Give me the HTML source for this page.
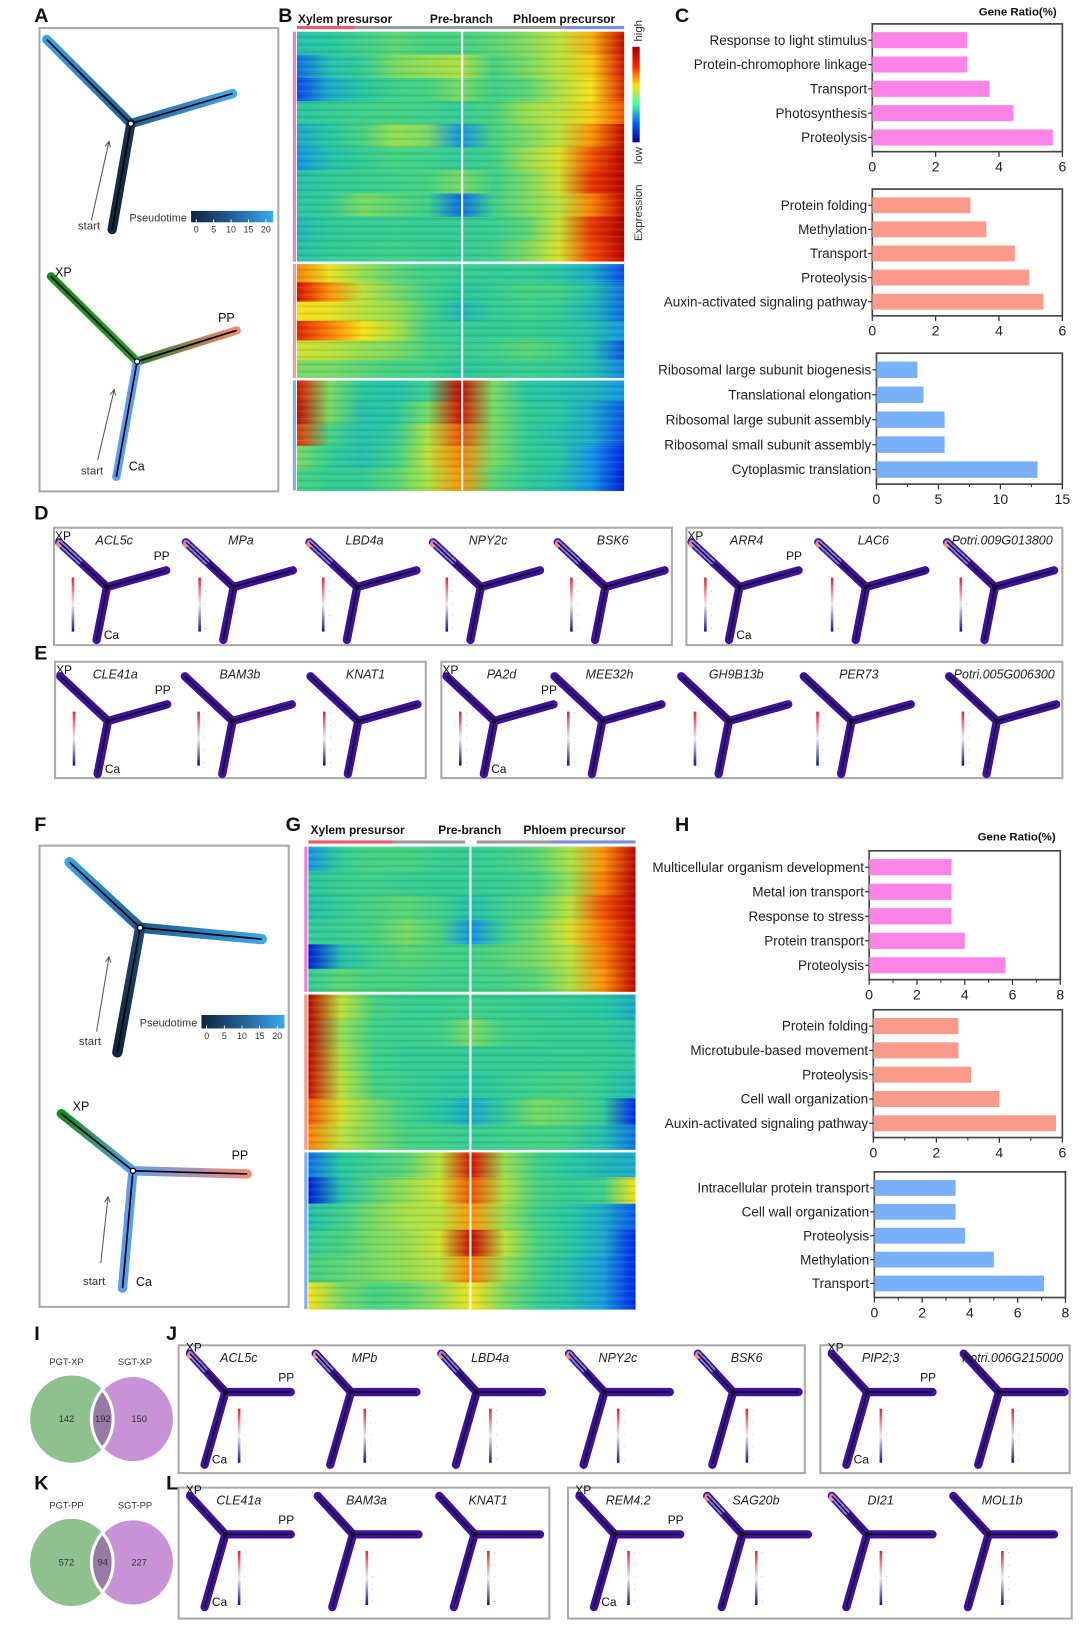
<!DOCTYPE html>
<html><head><meta charset="utf-8">
<style>
html,body{margin:0;padding:0;background:#fff;}
svg{display:block;font-family:"Liberation Sans",Arial,sans-serif;}
</style></head>
<body>
<svg id="fig" width="1080" height="1631" viewBox="0 0 1040 1570" preserveAspectRatio="none" xmlns="http://www.w3.org/2000/svg">
<defs id="defs">
<pattern id="stripes" width="6" height="7" patternUnits="userSpaceOnUse">
<rect x="0" y="0" width="6" height="1.5" fill="#000" opacity="0.10"/>
<rect x="0" y="3.5" width="6" height="1" fill="#fff" opacity="0.10"/>
</pattern>
</defs>
</svg>
<script>
// ---------- bar chart data ----------
const cLabels1 = ["Response to light stimulus","Protein-chromophore linkage","Transport","Photosynthesis","Proteolysis"];
const cValues1 = [3.0,3.0,3.7,4.45,5.7];
const cLabels2 = ["Protein folding","Methylation","Transport","Proteolysis","Auxin-activated signaling pathway"];
const cValues2 = [3.1,3.6,4.5,4.95,5.4];
const cLabels3 = ["Ribosomal large subunit biogenesis","Translational elongation","Ribosomal large subunit assembly","Ribosomal small subunit assembly","Cytoplasmic translation"];
const cValues3 = [3.3,3.8,5.5,5.5,13.0];
const hLabels1 = ["Multicellular organism development","Metal ion transport","Response to stress","Protein transport","Proteolysis"];
const hValues1 = [3.45,3.45,3.45,4.0,5.7];
const hLabels2 = ["Protein folding","Microtubule-based movement","Proteolysis","Cell wall organization","Auxin-activated signaling pathway"];
const hValues2 = [2.7,2.7,3.1,4.0,5.8];
const hLabels3 = ["Intracellular protein transport","Cell wall organization","Proteolysis","Methylation","Transport"];
const hValues3 = [3.4,3.4,3.8,5.0,7.1];
const ticks6 = [0,2,4,6];
const ticks15 = [0,5,10,15];
const ticks8 = [0,2,4,6,8];
// ---------- heatmap row profiles (expression 0..1 along pseudotime, 11 points) ----------
const bCluster1 = [
 [0.40,0.42,0.48,0.52,0.50,0.50,0.52,0.56,0.62,0.75,0.95],
 [0.25,0.40,0.45,0.55,0.58,0.60,0.50,0.55,0.62,0.72,0.92],
 [0.20,0.35,0.42,0.48,0.50,0.55,0.48,0.52,0.60,0.70,0.90],
 [0.42,0.45,0.48,0.50,0.48,0.45,0.50,0.58,0.62,0.72,0.85],
 [0.35,0.42,0.50,0.58,0.55,0.30,0.50,0.55,0.62,0.78,0.96],
 [0.30,0.40,0.45,0.50,0.48,0.45,0.48,0.58,0.66,0.85,0.98],
 [0.40,0.44,0.46,0.48,0.50,0.55,0.48,0.55,0.65,0.88,0.98],
 [0.42,0.45,0.55,0.52,0.48,0.25,0.48,0.55,0.62,0.80,0.96],
 [0.38,0.44,0.45,0.46,0.45,0.45,0.46,0.52,0.64,0.88,0.99],
 [0.40,0.45,0.46,0.48,0.46,0.45,0.48,0.55,0.66,0.86,0.97]];
const bCluster2 = [
 [0.80,0.68,0.58,0.52,0.48,0.45,0.44,0.45,0.42,0.35,0.20],
 [0.92,0.78,0.62,0.55,0.48,0.42,0.45,0.50,0.48,0.40,0.25],
 [0.70,0.68,0.62,0.58,0.50,0.38,0.45,0.48,0.45,0.38,0.25],
 [0.90,0.80,0.70,0.60,0.48,0.45,0.45,0.46,0.44,0.40,0.30],
 [0.65,0.62,0.58,0.55,0.50,0.45,0.48,0.52,0.48,0.40,0.22],
 [0.55,0.55,0.52,0.50,0.48,0.42,0.45,0.46,0.45,0.40,0.28]];
const bCluster3 = [
 [0.92,0.55,0.42,0.40,0.48,0.95,0.55,0.42,0.40,0.38,0.30],
 [0.95,0.55,0.40,0.42,0.55,0.92,0.55,0.45,0.42,0.35,0.22],
 [0.88,0.50,0.40,0.45,0.60,0.85,0.55,0.45,0.40,0.35,0.20],
 [0.55,0.45,0.40,0.48,0.62,0.80,0.55,0.45,0.42,0.30,0.15],
 [0.50,0.45,0.45,0.52,0.60,0.78,0.52,0.45,0.40,0.30,0.12]];
const gCluster1 = [
 [0.30,0.45,0.50,0.50,0.46,0.45,0.48,0.52,0.60,0.78,0.97],
 [0.42,0.46,0.48,0.46,0.45,0.45,0.46,0.50,0.58,0.80,0.98],
 [0.40,0.45,0.50,0.52,0.48,0.40,0.48,0.52,0.62,0.85,0.98],
 [0.44,0.46,0.50,0.55,0.50,0.30,0.48,0.55,0.66,0.82,0.96],
 [0.12,0.40,0.48,0.52,0.50,0.48,0.52,0.55,0.62,0.80,0.97],
 [0.45,0.52,0.50,0.50,0.48,0.48,0.50,0.52,0.60,0.78,0.97]];
const gCluster2 = [
 [0.97,0.62,0.50,0.46,0.46,0.48,0.46,0.45,0.44,0.42,0.35],
 [0.97,0.58,0.48,0.46,0.48,0.55,0.48,0.46,0.45,0.45,0.40],
 [0.96,0.60,0.48,0.45,0.45,0.45,0.45,0.45,0.46,0.45,0.42],
 [0.95,0.62,0.50,0.46,0.44,0.42,0.45,0.48,0.50,0.45,0.38],
 [0.85,0.65,0.55,0.48,0.42,0.35,0.45,0.55,0.52,0.45,0.15],
 [0.80,0.62,0.55,0.50,0.48,0.45,0.48,0.50,0.48,0.40,0.25]];
const gCluster3 = [
 [0.25,0.42,0.48,0.52,0.62,0.92,0.58,0.48,0.42,0.38,0.35],
 [0.12,0.40,0.52,0.58,0.65,0.85,0.60,0.50,0.45,0.48,0.70],
 [0.40,0.48,0.55,0.60,0.62,0.78,0.58,0.48,0.42,0.35,0.22],
 [0.45,0.50,0.55,0.58,0.65,0.95,0.62,0.50,0.42,0.35,0.15],
 [0.50,0.52,0.55,0.58,0.62,0.80,0.58,0.48,0.40,0.32,0.15],
 [0.70,0.55,0.50,0.52,0.58,0.70,0.55,0.46,0.40,0.32,0.15]];
// ---------- venn data ----------
const vennXP = [142,192,150];
const vennPP = [572,94,227];

const svg = document.getElementById('fig');
const defs = document.getElementById('defs');
const NS = "http://www.w3.org/2000/svg";
function el(tag, attrs, parent){
  const e = document.createElementNS(NS, tag);
  for (const k in attrs) e.setAttribute(k, attrs[k]);
  (parent||svg).appendChild(e);
  return e;
}
function txt(x,y,s,size,opts,parent){
  const o = Object.assign({x:x,y:y,'font-size':size,fill:'#111'}, opts||{});
  const t = el('text', o, parent);
  t.textContent = s;
  return t;
}
function panelLabel(x,y,s){
  const t = txt(x,y,s,19,{'font-weight':'bold'});
  
  
}
const cmap=[[0,[0,0,130]],[0.15,[0,40,240]],[0.3,[20,150,230]],[0.42,[40,200,160]],[0.5,[70,210,130]],[0.6,[170,225,70]],[0.7,[245,225,25]],[0.82,[255,110,0]],[0.92,[220,20,0]],[1,[170,0,0]]];
function jet(v){
  v=Math.max(0,Math.min(1,v));
  for(let i=1;i<cmap.length;i++){
    if(v<=cmap[i][0]){
      const a=cmap[i-1],b=cmap[i],t=(v-a[0])/(b[0]-a[0]);
      return 'rgb('+a[1].map((c,k)=>Math.round(c+(b[1][k]-c)*t)).join(',')+')';
    }
  }
  return 'rgb(170,0,0)';
}
let gid=0;
function grad(stops, vertical){
  const id='g'+(gid++);
  const g = el('linearGradient',{id:id,x1:0,y1:0,x2:vertical?0:1,y2:vertical?1:0},defs);
  stops.forEach(s=>el('stop',{offset:s[0],'stop-color':s[1]},g));
  return 'url(#'+id+')';
}

// ---------- bar chart ----------
function barChart(name,x0,y0,x1,y1,labels,vals,max,ticks,color,minor){
  const g = el('g',{});
  
  
  el('rect',{x:x0,y:y0,width:x1-x0,height:y1-y0,fill:'none',stroke:'#444','stroke-width':1.6},g);
  const n = labels.length, slot=(y1-y0-6)/n;
  const sx = v=>x0+(v/max)*(x1-x0);
  labels.forEach((lab,i)=>{
    const cy = y0+6+slot*(i+0.5)-2;
    const bh = slot*0.66;
    const r = el('rect',{x:x0,y:cy-bh/2,width:sx(vals[i])-x0,height:bh,fill:color},g);
    
    
    el('line',{x1:x0-4,x2:x0,y1:cy,y2:cy,stroke:'#333','stroke-width':1.2},g);
    const t = txt(x0-5,cy+4.5,lab,13,{'text-anchor':'end',fill:'#222'},g);
    
    
  });
  ticks.forEach(tv=>{
    const x=sx(tv);
    el('line',{x1:x,x2:x,y1:y1,y2:y1+5,stroke:'#333','stroke-width':1.2},g);
    const t = txt(x,y1+19,String(tv),13.5,{'text-anchor':'middle',fill:'#222'},g);
    
    
  });
  if(minor){ minor.forEach(mv=>{const x=sx(mv);el('line',{x1:x,x2:x,y1:y1,y2:y1+3,stroke:'#333','stroke-width':1},g);}); }
}

// ---------- heatmap ----------
function heatmap(name,x0,x1,clusters,bounds,sideColors){
  const g = el('g',{});
  
  
  clusters.forEach((rows,ci)=>{
    const top=bounds[ci], bot=bounds[ci+1];
    const rh=(bot-top)/rows.length;
    rows.forEach((row,ri)=>{
      const stops=row.map((v,k)=>[k/(row.length-1),jet(v)]);
      const r = el('rect',{x:x0,y:top+ri*rh,width:x1-x0,height:rh+0.6,fill:grad(stops,false)},g);
      
      
    });
    const s = el('rect',{x:x0-4,y:top,width:3,height:bot-top,fill:sideColors[ci]},g);
    
    
  });
  el('rect',{x:x0,y:bounds[0],width:x1-x0,height:bounds[bounds.length-1]-bounds[0],fill:'url(#stripes)'},g);
  bounds.slice(1,-1).forEach(b=>el('line',{x1:x0-4,x2:x1,y1:b,y2:b,stroke:'#fff','stroke-width':2.5},g));
  return g;
}

// ---------- trajectory ----------
function traj(name,pts,colors,w){
  const g = el('g',{});
  
  
  const [tl,j,r,b]=pts;
  [[tl,j,colors[0]],[j,r,colors[1]],[j,b,colors[2]]].forEach(s=>{
    const x1=s[0][0],y1=s[0][1],x2=s[1][0],y2=s[1][1];
    const id='g'+(gid++);
    const lg=el('linearGradient',{id:id,gradientUnits:'userSpaceOnUse',x1:x1,y1:y1,x2:x2,y2:y2},defs);
    el('stop',{offset:0,'stop-color':s[2][0]},lg);el('stop',{offset:1,'stop-color':s[2][1]},lg);
    el('line',{x1:x1,y1:y1,x2:x2,y2:y2,stroke:'url(#'+id+')','stroke-width':w,'stroke-linecap':'round'},g);
  });
  el('polyline',{points:[tl,j,r].map(p=>p.join(',')).join(' '),fill:'none',stroke:'#000','stroke-width':1.6},g);
  el('line',{x1:j[0],y1:j[1],x2:b[0],y2:b[1],stroke:'#000','stroke-width':1.6},g);
  el('circle',{cx:j[0],cy:j[1],r:2.5,fill:'#fff',stroke:'#000','stroke-width':1.2},g);
  return g;
}
function arrow(x1,y1,x2,y2){
  el('line',{x1:x1,y1:y1,x2:x2,y2:y2,stroke:'#555','stroke-width':1});
  const a=Math.atan2(y2-y1,x2-x1),L=6;
  el('polyline',{points:[[x2-L*Math.cos(a-0.45),y2-L*Math.sin(a-0.45)],[x2,y2],[x2-L*Math.cos(a+0.45),y2-L*Math.sin(a+0.45)]].map(p=>p.join(',')).join(' '),fill:'none',stroke:'#555','stroke-width':1});
}
function pseudoBar(x,y,w,h,tx,ty){
  const r = el('rect',{x:x,y:y,width:w,height:h,fill:grad([[0,'#0f2540'],[0.5,'#245f95'],[1,'#38a8ec']],false)});
  
  
  txt(tx,ty,'Pseudotime',10.5,{fill:'#333','text-anchor':'end'});
  [0,5,10,15,20].forEach((v,i)=>{
    const xx=x+5+i*(w-12)/4;
    el('line',{x1:xx,x2:xx,y1:y+h-3,y2:y+h,stroke:'#fff','stroke-width':0.8});
    txt(xx,y+h+10,String(v),8.5,{fill:'#333','text-anchor':'middle'});
  });
}

// ---------- mini feature plot ----------
function miniPlot(ox,oy,gene,shape,cbx,cby,cbh,showLabels,hot){
  const g = el('g',{});
  
  
  const P=shape.map(p=>[ox+p[0],oy+p[1]]);
  const [tl,j,r,b]=P;
  [[tl,j],[j,r],[j,b]].forEach(s=>el('line',{x1:s[0][0],y1:s[0][1],x2:s[1][0],y2:s[1][1],stroke:'#410fa0','stroke-width':8,'stroke-linecap':'round'},g));
  if(hot){
    const mx=tl[0]+(j[0]-tl[0])*0.45,my=tl[1]+(j[1]-tl[1])*0.45;
    el('line',{x1:tl[0],y1:tl[1],x2:mx,y2:my,stroke:'#8a7fe0','stroke-width':5,'stroke-linecap':'round','stroke-dasharray':'3 3'},g);
    el('circle',{cx:tl[0],cy:tl[1]+2,r:3,fill:'#f08a9a'},g);
  }
  el('polyline',{points:[tl,j,r].map(p=>p.join(',')).join(' '),fill:'none',stroke:'#000','stroke-width':1.3},g);
  el('line',{x1:j[0],y1:j[1],x2:b[0],y2:b[1],stroke:'#000','stroke-width':1.3},g);
  el('circle',{cx:j[0],cy:j[1],r:2.5,fill:'#111'},g);
  el('rect',{x:ox+cbx,y:oy+cby,width:2.5,height:cbh,fill:grad([[0,'#e8202a'],[0.5,'#f2eaf6'],[1,'#10109a']],true)},g);
  for(let k=0;k<5;k++) txt(ox+cbx+6,oy+cby+3+k*cbh/4.4,'·',6,{fill:'#666'},g);
  const t = txt(ox+58,oy+16,gene,12,{'font-style':'italic','text-anchor':'middle',fill:'#222'},g);
  
  
  if(showLabels){
    txt(tl[0]-4,tl[1]-2,'XP',11.5,{fill:'#111'},g);
    txt(r[0]-12,r[1]-10,'PP',11.5,{fill:'#111'},g);
    txt(b[0]+7,b[1]-1,'Ca',11.5,{fill:'#111'},g);
  }
}
function frame(name,x,y,w,h){
  const r = el('rect',{x:x,y:y,width:w,height:h,fill:'none',stroke:'#aaa','stroke-width':2});
  
  
}

// ===================== PANEL A =====================
panelLabel(33,21,'A');
frame('panel-a-box',38,27,230,446);
traj('trajectory-pseudotime-a',[[45,38],[126,119],[224,90],[108,221]],[['#3aa0e6','#1f5f96'],['#215f94','#46a8ec'],['#163452','#10273e']],9);
arrow(88,212,105,136); txt(75,221,'start',11,{fill:'#333'});
pseudoBar(184,203,79,11,180,213);
traj('trajectory-celltype-a',[[49,266],[132,348],[228,318],[112,459]],[['#1f8a1f','#239a2a'],['#2a7a30','#f58a78'],['#5a9ef0','#5a9ef0']],8);
txt(53,266,'XP',12,{fill:'#111'}); txt(210,310,'PP',12,{fill:'#111'}); txt(124,453,'Ca',12,{fill:'#111'});
arrow(94,443,110,375); txt(78,457,'start',11,{fill:'#333'});

// ===================== PANEL B =====================
panelLabel(268,21,'B');
heatmap('heatmap-b',286,601,[bCluster1,bCluster2,bCluster3],[30.5,253,365,472],['#f27ad8','#f59a86','#7ab0f5']);
el('line',{x1:445,x2:445,y1:30,y2:472,stroke:'#fff','stroke-width':2});
el('rect',{x:286,y:25,width:315,height:3,fill:'#9a9a9a'});
el('rect',{x:286,y:25,width:56,height:3,fill:'#f05a6a'});
el('rect',{x:544,y:25,width:57,height:3,fill:'#7a90d8'});
txt(287,22,'Xylem presursor',11.5,{'font-weight':'bold'});
txt(414,22,'Pre-branch',11.5,{'font-weight':'bold'});
txt(494,22,'Phloem precursor',11.5,{'font-weight':'bold'});
const cb=el('rect',{x:609,y:45,width:7,height:92,fill:grad([[0,'#a00000'],[0.2,'#ff2000'],[0.4,'#ffe000'],[0.6,'#40ffb0'],[0.8,'#0060ff'],[1,'#000090']],true)});

txt(0,0,'high',11,{transform:'translate(618,40) rotate(-90)',fill:'#333'});
txt(0,0,'low',11,{transform:'translate(618,158) rotate(-90)',fill:'#333'});
txt(0,0,'Expression',11,{transform:'translate(618,232) rotate(-90)',fill:'#333'});

// ===================== PANEL C =====================
panelLabel(650,21,'C');
txt(980,15,'Gene Ratio(%)',11,{'font-weight':'bold','text-anchor':'middle'});
barChart('go-bar-chart-c1',840,23,1023,146,cLabels1,cValues1,6,ticks6,'#fb84e6');
barChart('go-bar-chart-c2',840,182,1023,304,cLabels2,cValues2,6,ticks6,'#fa9a8a');
barChart('go-bar-chart-c3',844,340,1023,466,cLabels3,cValues3,15,ticks15,'#79b0f8',[2.5,7.5,12.5]);

// ===================== PANEL D / E =====================
const shapeDE=[[5,14],[51,57],[108,41],[41,108]];
panelLabel(33,500,'D');
frame('panel-d-box-1',52,508,595,113);
frame('panel-d-box-2',661,508,362,113);
const dGenes1=["ACL5c","MPa","LBD4a","NPY2c","BSK6"], dX1=[52,174,293,412,532];
dGenes1.forEach((gn,i)=>miniPlot(dX1[i],508,gn,shapeDE,17,48,52,i===0,true));
const dGenes2=["ARR4","LAC6","Potri.009G013800"], dX2=[661,783,907];
dGenes2.forEach((gn,i)=>miniPlot(dX2[i],508,gn,shapeDE,17,48,52,i===0,true));
panelLabel(33,635,'E');
frame('panel-e-box-1',53,637,357,112);
frame('panel-e-box-2',425,637,598,112);
const eGenes1=["CLE41a","BAM3b","KNAT1"], eX1=[53,173,294];
eGenes1.forEach((gn,i)=>miniPlot(eX1[i],637,gn,shapeDE,17,48,52,i===0,false));
const eGenes2=["PA2d","MEE32h","GH9B13b","PER73","Potri.005G006300"], eX2=[425,529,651,769,909];
eGenes2.forEach((gn,i)=>miniPlot(eX2[i],637,gn,shapeDE,17,48,52,i===0,false));

// ===================== PANEL F =====================
panelLabel(33,800,'F');
frame('panel-f-box',38,814,240,444);
traj('trajectory-pseudotime-f',[[67,830],[135,893],[252,904],[113,1013]],[['#3aa0e6','#1f5f96'],['#1f5a8e','#3aa8ec'],['#1c4a72','#0f263f']],10);
arrow(93,993,105,921); txt(76,1006,'start',11,{fill:'#333'});
pseudoBar(194,977,80,13,190,988);
traj('trajectory-celltype-f',[[59,1072],[128,1127],[238,1130],[118,1240]],[['#1a8a1a','#5a9ef0'],['#5a9ef0','#f58a78'],['#5a9ef0','#5a9ef0']],9);
txt(70,1069,'XP',12,{fill:'#111'}); txt(223,1116,'PP',12,{fill:'#111'}); txt(131,1238,'Ca',12,{fill:'#111'});
arrow(97,1216,104,1152); txt(80,1237,'start',11,{fill:'#333'});

// ===================== PANEL G =====================
panelLabel(275,800,'G');
heatmap('heatmap-g',297,612,[gCluster1,gCluster2,gCluster3],[815,956,1108,1260],['#f27ad8','#f59a86','#7ab0f5']);
el('line',{x1:453,x2:453,y1:815,y2:1260,stroke:'#fff','stroke-width':2});
el('rect',{x:297,y:809,width:151,height:3,fill:'#9a9a9a'});
el('rect',{x:459,y:809,width:153,height:3,fill:'#9a9a9a'});
el('rect',{x:297,y:809,width:81,height:3,fill:'#f05a6a'});
el('rect',{x:531,y:809,width:81,height:3,fill:'#7a90d8'});
txt(299,803,'Xylem presursor',11.5,{'font-weight':'bold'});
txt(422,803,'Pre-branch',11.5,{'font-weight':'bold'});
txt(504,803,'Phloem precursor',11.5,{'font-weight':'bold'});

// ===================== PANEL H =====================
panelLabel(650,800,'H');
txt(979,809,'Gene Ratio(%)',11,{'font-weight':'bold','text-anchor':'middle'});
barChart('go-bar-chart-h1',837,819,1021,943,hLabels1,hValues1,8,ticks8,'#fb84e6',[1,3,5,7]);
barChart('go-bar-chart-h2',841,972,1023,1095,hLabels2,hValues2,6,ticks6,'#fa9a8a',[1,3,5]);
barChart('go-bar-chart-h3',842,1128,1026,1249,hLabels3,hValues3,8,ticks8,'#79b0f8',[1,3,5,7]);

// ===================== VENN I / K =====================
function venn(name,cy,vals,l1,l2){
  const g=el('g',{});
  
  
  const L={cx:69,rx:40},R={cx:128,rx:40},ry=42;
  const cid='c'+(gid++);
  const cp=el('clipPath',{id:cid},defs);
  el('ellipse',{cx:R.cx,cy:cy,rx:R.rx,ry:ry},cp);
  el('ellipse',{cx:L.cx,cy:cy,rx:L.rx,ry:ry,fill:'#8fc08f'},g);
  el('ellipse',{cx:R.cx,cy:cy,rx:R.rx,ry:ry,fill:'#c792d6'},g);
  el('ellipse',{cx:L.cx,cy:cy,rx:L.rx,ry:ry,fill:'#977aa6','clip-path':'url(#'+cid+')'},g);
  el('ellipse',{cx:L.cx,cy:cy,rx:L.rx,ry:ry,fill:'none',stroke:'#fff','stroke-width':3,'clip-path':'url(#'+cid+')'},g);
  el('ellipse',{cx:R.cx,cy:cy,rx:R.rx,ry:ry,fill:'none',stroke:'#fff','stroke-width':3},g);
  txt(64,cy-52,l1,9,{'text-anchor':'middle',fill:'#333'},g);
  txt(130,cy-52,l2,9,{'text-anchor':'middle',fill:'#333'},g);
  const xs=[64,99,134];
  vals.forEach((v,i)=>{const t=txt(xs[i],cy+3,String(v),9,{'text-anchor':'middle',fill:'#333'},g);
    });
}
panelLabel(33,1290,'I');
venn('venn-xp',1366,vennXP,'PGT-XP','SGT-XP');
panelLabel(33,1434,'K');
venn('venn-pp',1504,vennPP,'PGT-PP','SGT-PP');

// ===================== PANEL J / L =====================
const shapeJL=[[11,8],[45,45],[108,45],[25,115]];
panelLabel(160,1290,'J');
frame('panel-j-box-1',172,1295,603,123);
frame('panel-j-box-2',790,1295,240,123);
const jGenes1=["ACL5c","MPb","LBD4a","NPY2c","BSK6"], jX1=[172,293,414,537,661];
jGenes1.forEach((gn,i)=>miniPlot(jX1[i],1295,gn,shapeJL,57,61,52,i===0,true));
const jGenes2=["PIP2;3","Potri.006G215000"], jX2=[790,917];
jGenes2.forEach((gn,i)=>miniPlot(jX2[i],1295,gn,shapeJL,57,61,52,i===0,false));
panelLabel(160,1434,'L');
frame('panel-l-box-1',172,1432,357,126);
frame('panel-l-box-2',547,1432,485,126);
const lGenes1=["CLE41a","BAM3a","KNAT1"], lX1=[172,295,412];
lGenes1.forEach((gn,i)=>miniPlot(lX1[i],1432,gn,shapeJL,57,61,52,i===0,false));
const lGenes2=["REM4.2","SAG20b","DI21","MOL1b"], lX2=[547,670,790,907];
lGenes2.forEach((gn,i)=>miniPlot(lX2[i],1432,gn,shapeJL,57,61,52,i===0,i===1||i===2));
</script>
</body></html>
